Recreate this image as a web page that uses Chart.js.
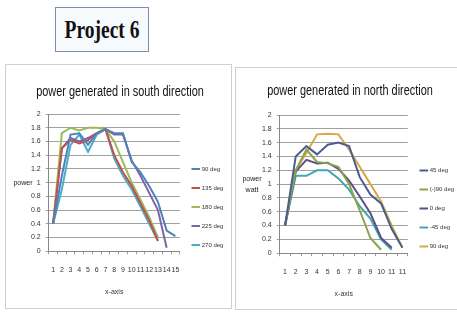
<!DOCTYPE html>
<html>
<head>
<meta charset="utf-8">
<script src="https://cdn.jsdelivr.net/npm/chart.js@4/dist/chart.umd.min.js"></script>
<style>
  body { margin: 0; background: #fff; width: 457px; height: 313px; overflow: hidden; position: relative; }
  .proj { position: absolute; left: 55px; top: 7px; width: 94px; height: 45px; border: 1px solid #7d8ea6;
          background: #f7fafd; box-sizing: border-box; text-align: center; white-space: nowrap; }
  .proj span { display: inline-block; font: bold 25px "Liberation Serif", serif; line-height: 43px;
               transform: scaleX(0.78); color: #111; margin-left: -20px; margin-right: -20px; }
  .panel { position: absolute; border: 1px solid #cfcfcf; box-sizing: border-box; }
  .ttl { position: absolute; white-space: nowrap; text-align: center; font: 14px "Liberation Sans", sans-serif;
         color: #111; transform: scaleX(0.78); }
  canvas { position: absolute; }
</style>
</head>
<body>
<div class="proj"><span>Project 6</span></div>
<div class="panel" style="left:5px;top:64px;width:227px;height:245px;"></div>
<div class="panel" style="left:235px;top:67px;width:225px;height:243px;"></div>
<canvas id="south" width="225" height="240" style="left:6px;top:65px;"></canvas>
<canvas id="north" width="222" height="240" style="left:236px;top:68px;"></canvas>
<div class="ttl" style="left:0px;top:83px;width:240px;">power generated in south direction</div>
<div class="ttl" style="left:230px;top:82px;width:240px;">power generated in north direction</div>
<script>
const southLabels = ['1','2','3','4','5','6','7','8','9','10','11','12','13','14','15'];
const deg90  = [0.4, 1.1, 1.7, 1.72, 1.55, 1.72, 1.78, 1.72, 1.72, 1.3, 1.15, 0.95, 0.72, 0.3, 0.22];
const deg135 = [0.4, 1.5, 1.62, 1.57, 1.62, 1.72, 1.78, 1.4, 1.15, 0.95, 0.7, 0.45, 0.15];
const deg180 = [0.4, 1.72, 1.8, 1.76, 1.8, 1.8, 1.78, 1.6, 1.3, 1.0, 0.75, 0.5, 0.2];
const deg225 = [0.4, 1.5, 1.65, 1.6, 1.65, 1.72, 1.78, 1.7, 1.7, 1.32, 1.1, 0.85, 0.6, 0.05];
const deg270 = [0.4, 0.9, 1.55, 1.7, 1.45, 1.7, 1.78, 1.35, 1.1, 0.9, 0.65, 0.4, 0.15];

const northLabels = ['1','2','3','4','5','6','7','8','9','10','11','11'];
const n45   = [0.4, 1.4, 1.55, 1.43, 1.57, 1.6, 1.55, 1.1, 0.85, 0.72, 0.35, 0.08];
const nM90  = [0.4, 1.2, 1.5, 1.32, 1.3, 1.25, 1.0, 0.62, 0.22, 0.05];
const n0    = [0.4, 1.18, 1.35, 1.3, 1.31, 1.22, 1.05, 0.82, 0.58, 0.22, 0.08];
const nM45  = [0.4, 1.12, 1.12, 1.2, 1.2, 1.08, 0.92, 0.68, 0.5, 0.2, 0.05];
const n90   = [0.4, 1.2, 1.45, 1.72, 1.73, 1.72, 1.5, 1.25, 1.0, 0.75, 0.4, 0.08];

const narrow = '"Liberation Sans", sans-serif';

// horizontal y axis title (Excel style, not rotated)
const yTitle = {
  id: 'yTitle',
  afterDraw(chart, args, opts) {
    const ctx = chart.ctx;
    const a = chart.chartArea;
    ctx.save();
    ctx.font = '7px ' + narrow;
    ctx.fillStyle = '#222';
    ctx.textAlign = 'center';
    ctx.textBaseline = 'middle';
    const mid = (a.top + a.bottom) / 2;
    opts.lines.forEach((t, i) => {
      ctx.fillText(t, opts.x, mid + (i - (opts.lines.length - 1) / 2) * 11);
    });
    ctx.restore();
  }
};

function ds(label, data, color) {
  return { label: label, data: data, borderColor: color, backgroundColor: color,
           borderWidth: 2, pointRadius: 0, tension: 0 };
}

function makeOptions(yLines, yX, leftPad, topPad, bottomPad) {
  return {
    responsive: false,
    animation: false,
    layout: { padding: { left: leftPad, right: 0, top: topPad, bottom: bottomPad } },
    plugins: {
      title: { display: false },
      legend: { position: 'right',
                labels: { usePointStyle: true, pointStyle: 'line', boxWidth: 12, padding: 13,
                          color: '#333', font: { family: narrow, size: 6 } } },
      tooltip: { enabled: false },
      yTitle: { lines: yLines, x: yX }
    },
    scales: {
      x: {
        offset: true,
        grid: { drawOnChartArea: false, offset: true, tickLength: 3, color: '#999' },
        border: { color: '#888' },
        ticks: { color: '#333', font: { family: narrow, size: 7 }, maxRotation: 0, autoSkip: false, padding: 12 },
        title: { display: true, text: 'x-axis', color: '#333', font: { family: narrow, size: 7 }, padding: { top: 1 } }
      },
      y: {
        min: 0, max: 2,
        grid: { color: '#a0a0a0', tickLength: 3 },
        border: { color: '#888' },
        ticks: { stepSize: 0.2, color: '#333', font: { family: narrow, size: 7 }, padding: 5,
                 callback: v => String(Number(v.toFixed(1))) }
      }
    }
  };
}

new Chart(document.getElementById('south'), {
  type: 'line',
  data: {
    labels: southLabels,
    datasets: [
      ds('90 deg', deg90, '#4F81BD'),
      ds('135 deg', deg135, '#C0504D'),
      ds('180 deg', deg180, '#9BBB59'),
      ds('225 deg', deg225, '#8064A2'),
      ds('270 deg', deg270, '#4BACC6')
    ]
  },
  options: makeOptions(['power'], 17, 20, 49, 5),
  plugins: [yTitle]
});

new Chart(document.getElementById('north'), {
  type: 'line',
  data: {
    labels: northLabels,
    datasets: [
      ds('45 deg', n45, '#4A5E8C'),
      ds('(-)90 deg', nM90, '#8FA24E'),
      ds('0 deg', n0, '#5B4F86'),
      ds('-45 deg', nM45, '#3FA7B0'),
      ds('90 deg', n90, '#D6A84A')
    ]
  },
  options: makeOptions(['power', 'watt'], 16, 21, 47, 6),
  plugins: [yTitle]
});
</script>
</body>
</html>
